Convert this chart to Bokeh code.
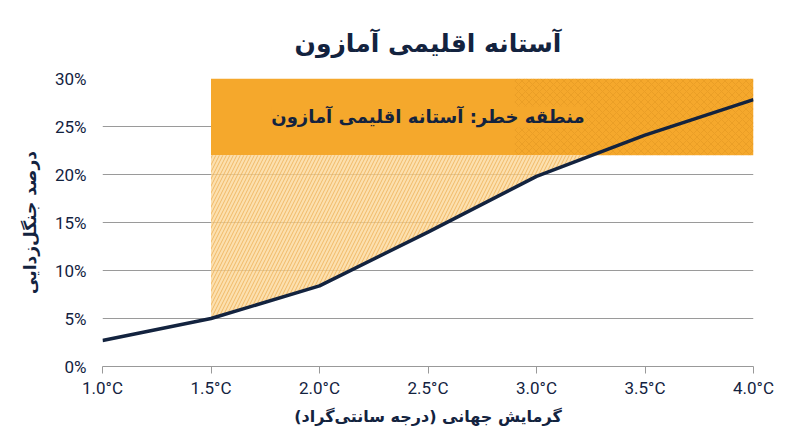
import numpy as np
from bokeh.plotting import figure
from bokeh.models import Range1d, FixedTicker, PrintfTickFormatter, Label
from bokeh.embed import file_html
from bokeh.resources import INLINE

# global warming (°C) vs share of Amazon deforested (%)
warming = [1.0, 1.5, 2.0, 2.5, 3.0, 3.5, 4.0]
deforestation = [2.7, 5.0, 8.4, 14.0, 19.8, 24.1, 27.8]

x_ticks = [1.0, 1.5, 2.0, 2.5, 3.0, 3.5, 4.0]
y_ticks = [0, 5, 10, 15, 20, 25, 30]

# danger zone bounds
zone_start = 1.5
zone_low = 22
zone_high = 30

title_text = "آستانه اقلیمی آمازون"
zone_text = "منطقه خطر: آستانه اقلیمی آمازون"
x_label = "گرمایش جهانی (درجه سانتی\u200cگراد)"
y_label = "درصد جنگل\u200cزدایی"

NAVY = "#13233f"
ORANGE = "#F5A82C"
FA_FONT = "DejaVu Sans"

p = figure(width=800, height=447, output_backend="svg", toolbar_location=None,
           x_range=Range1d(warming[0], warming[-1]), y_range=Range1d(0, zone_high),
           min_border_left=102, min_border_right=47, min_border_top=78, min_border_bottom=81)
p.outline_line_color = None
p.background_fill_color = "white"

# title
p.title.text = title_text
p.title.align = "center"
p.title.text_font = FA_FONT
p.title.text_font_size = "25px"
p.title.text_font_style = "bold"
p.title.text_color = NAVY
p.title.standoff = 41

# danger zone (solid block)
p.quad(left=zone_start, right=warming[-1], bottom=zone_low, top=zone_high,
       fill_color=ORANGE, line_color=None)
# crosshatch on the right of the block
p.quad(left=2.9, right=warming[-1], bottom=zone_low, top=zone_high,
       fill_alpha=0, line_color=None, hatch_pattern="x",
       hatch_color="#C98318", hatch_alpha=0.45, hatch_scale=7, hatch_weight=0.6)

# hatched area between the curve and the zone
cross = float(np.interp(zone_low, deforestation, warming))
px = [x for x in warming if zone_start <= x < cross] + [cross, zone_start]
py = [y for x, y in zip(warming, deforestation) if zone_start <= x < cross] + [zone_low, zone_low]
p.patch(px, py, fill_color="#FBD594", fill_alpha=0.75, line_color=None,
        hatch_pattern="/", hatch_color="#EBA33C", hatch_alpha=0.9,
        hatch_scale=7, hatch_weight=0.7)

p.line(warming, deforestation, line_color=NAVY, line_width=3.5)

p.add_layout(Label(x=2.5, y=26, text=zone_text, text_align="center", text_baseline="middle",
                   text_font=FA_FONT, text_font_size="18px", text_font_style="bold",
                   text_color=NAVY, background_fill_color=ORANGE))

# axes
p.xaxis.ticker = FixedTicker(ticks=x_ticks)
p.xaxis.formatter = PrintfTickFormatter(format="%.1f°C")
p.yaxis.ticker = FixedTicker(ticks=y_ticks)
p.yaxis.formatter = PrintfTickFormatter(format="%d%%")

for ax in (p.xaxis, p.yaxis):
    ax.major_label_text_font = "Roboto"
    ax.major_label_text_font_size = "17px"
    ax.major_label_text_color = NAVY
    ax.axis_label_text_font = FA_FONT
    ax.axis_label_text_font_size = "16px"
    ax.axis_label_text_font_style = "bold"
    ax.axis_label_text_color = NAVY
    ax.minor_tick_line_color = None

p.xaxis.axis_label = x_label
p.xaxis.axis_line_color = "#999999"
p.xaxis.major_tick_line_color = "#999999"
p.xaxis.major_tick_in = 0
p.xaxis.major_tick_out = 7
p.xaxis.major_label_standoff = 4
p.xaxis.axis_label_standoff = 6

p.yaxis.axis_label = y_label
p.yaxis.axis_label_text_font_size = "17px"
p.yaxis.axis_line_color = None
p.yaxis.major_tick_line_color = None
p.yaxis.major_label_standoff = 10
p.yaxis.axis_label_standoff = 12

p.xgrid.grid_line_color = None
p.ygrid.grid_line_color = "#9a9a9a"
p.ygrid.grid_line_width = 1

open("out.html", "w").write(file_html(p, INLINE))
